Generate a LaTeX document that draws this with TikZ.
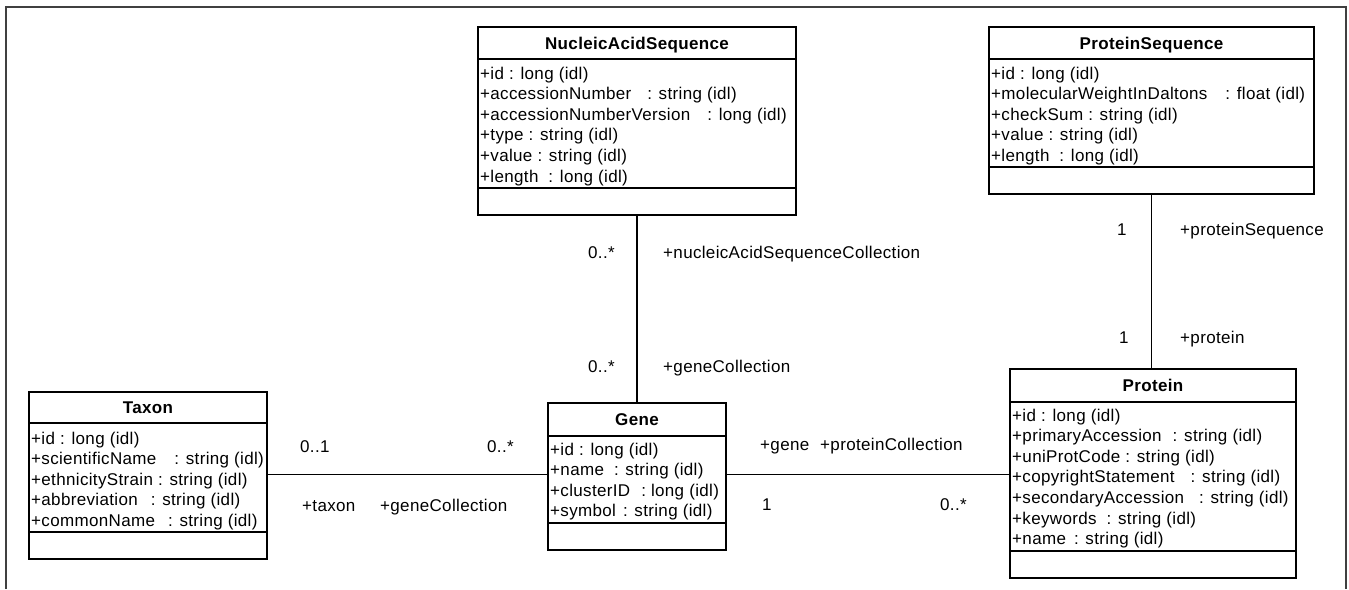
\documentclass[tikz,border=0pt]{standalone}
\usepackage{fontspec}
\setmainfont{Liberation Sans}[LetterSpace=2]
\newcommand\gp[1]{\hspace{#1pt}}
\begin{document}
\begin{tikzpicture}[x=1pt,y=-1pt,
  cls/.style={draw=black, line width=1.5pt, outer sep=0pt, inner sep=0pt, anchor=north west, fill=white},
  sepl/.style={draw=black, line width=1.5pt},
  ttl/.style={font=\fontsize{17}{20}\selectfont\bfseries, anchor=base, inner sep=0pt},
  atr/.style={font=\fontsize{17}{20}\selectfont, anchor=base west, inner sep=0pt},
  lbl/.style={font=\fontsize{17}{20}\selectfont, anchor=base west, inner sep=0pt},
  assoc/.style={draw=black, line width=1.5pt},
  frame/.style={draw=black!75, line width=2.2pt}
]
\useasboundingbox (0,0) rectangle (1349,589);
\draw[frame] (6,589) -- (6,7) -- (1346,7) -- (1346,589);

% NucleicAcidSequence
\node[cls, minimum width=318pt, minimum height=188pt] (nas) at (478,27) {};
\draw[sepl] ([yshift=-32pt]nas.north west) -- ([yshift=-32pt]nas.north east);
\draw[sepl] ([yshift=-161pt]nas.north west) -- ([yshift=-161pt]nas.north east);
\node[ttl] (nasT) at ([yshift=-22pt]nas.north) {NucleicAcidSequence};
\foreach \t [count=\i] in {{+id : long (idl)},{+accessionNumber\gp{16}: string (idl)},{+accessionNumberVersion\gp{17}: long (idl)},{+type : string (idl)},{+value : string (idl)},{+length\gp{10}: long (idl)}}
  \node[atr] (nas-\i) at ([xshift=2pt,yshift={-(31.4+20.6*\i)*1pt}]nas.north west) {\t};

% ProteinSequence
\node[cls, minimum width=325pt, minimum height=167pt] (ps) at (989,27) {};
\draw[sepl] ([yshift=-32pt]ps.north west) -- ([yshift=-32pt]ps.north east);
\draw[sepl] ([yshift=-140pt]ps.north west) -- ([yshift=-140pt]ps.north east);
\node[ttl] (psT) at ([yshift=-22pt]ps.north) {ProteinSequence};
\foreach \t [count=\i] in {{+id : long (idl)},{+molecularWeightInDaltons\gp{18}: float (idl)},{+checkSum : string (idl)},{+value : string (idl)},{+length\gp{10}: long (idl)}}
  \node[atr] (ps-\i) at ([xshift=2pt,yshift={-(31.4+20.6*\i)*1pt}]ps.north west) {\t};

% Taxon
\node[cls, minimum width=238pt, minimum height=167pt] (taxon) at (29,392) {};
\draw[sepl] ([yshift=-31pt]taxon.north west) -- ([yshift=-31pt]taxon.north east);
\draw[sepl] ([yshift=-140pt]taxon.north west) -- ([yshift=-140pt]taxon.north east);
\node[ttl] (taxonT) at ([yshift=-21pt]taxon.north) {Taxon};
\foreach \t [count=\i] in {{+id : long (idl)},{+scientificName\gp{18}: string (idl)},{+ethnicityStrain : string (idl)},{+abbreviation\gp{13}: string (idl)},{+commonName\gp{13}: string (idl)}}
  \node[atr] (taxon-\i) at ([xshift=2pt,yshift={-(31.4+20.6*\i)*1pt}]taxon.north west) {\t};

% Gene
\node[cls, minimum width=178pt, minimum height=147pt] (gene) at (548,403) {};
\draw[sepl] ([yshift=-33pt]gene.north west) -- ([yshift=-33pt]gene.north east);
\draw[sepl] ([yshift=-120pt]gene.north west) -- ([yshift=-120pt]gene.north east);
\node[ttl] (geneT) at ([yshift=-22pt]gene.north) {Gene};
\foreach \t [count=\i] in {{+id : long (idl)},{+name\gp{10}: string (idl)},{+clusterID\gp{11}: long (idl)},{+symbol\gp{7}: string (idl)}}
  \node[atr] (gene-\i) at ([xshift=2pt,yshift={-(31.4+20.6*\i)*1pt}]gene.north west) {\t};

% Protein
\node[cls, minimum width=286pt, minimum height=209pt] (prot) at (1010,369) {};
\draw[sepl] ([yshift=-33pt]prot.north west) -- ([yshift=-33pt]prot.north east);
\draw[sepl] ([yshift=-182pt]prot.north west) -- ([yshift=-182pt]prot.north east);
\node[ttl] (protT) at ([yshift=-22pt]prot.north) {Protein};
\foreach \t [count=\i] in {{+id : long (idl)},{+primaryAccession\gp{11}: string (idl)},{+uniProtCode : string (idl)},{+copyrightStatement\gp{16}: string (idl)},{+secondaryAccession\gp{15}: string (idl)},{+keywords\gp{10}: string (idl)},{+name\gp{8}: string (idl)}}
  \node[atr] (prot-\i) at ([xshift=2pt,yshift={-(31.4+20.6*\i)*1pt}]prot.north west) {\t};

% associations
\draw[assoc] (nas.south) -- (nas.south |- gene.north);
\draw[assoc] (ps.south) -- (ps.south |- prot.north);
\draw[assoc] ([yshift=1pt]taxon.east) -- ([yshift=1pt]taxon.east -| gene.west);
\draw[assoc] ([yshift=2pt]gene.east) -- ([yshift=2pt]gene.east -| prot.west);

% labels
\node[lbl] (l1) at (588,258) {0..*};
\node[lbl] (l2) at (663,258) {+nucleicAcidSequenceCollection};
\node[lbl] (l3) at (588,372) {0..*};
\node[lbl] (l4) at (663,372) {+geneCollection};
\node[lbl] (l5) at (1117,235) {1};
\node[lbl] (l6) at (1180,235) {+proteinSequence};
\node[lbl] (l7) at (1119,343) {1};
\node[lbl] (l8) at (1180,343) {+protein};
\node[lbl] (l9) at (300,452) {0..1};
\node[lbl] (l10) at (487,452) {0..*};
\node[lbl] (l11) at (302,511) {+taxon};
\node[lbl] (l12) at (380,511) {+geneCollection};
\node[lbl] (l13) at (760,450) {+gene};
\node[lbl] (l14) at (820,450) {+proteinCollection};
\node[lbl] (l15) at (762,510) {1};
\node[lbl] (l16) at (940,510) {0..*};
\end{tikzpicture}
\end{document}
